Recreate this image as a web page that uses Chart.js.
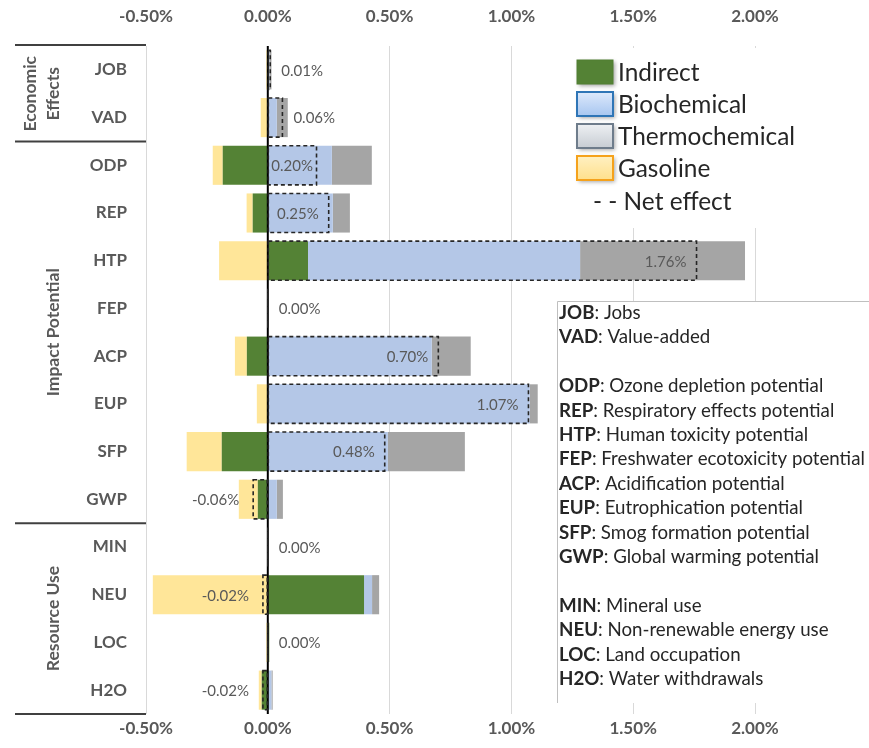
<!DOCTYPE html>
<html lang="en">
<head>
<meta charset="UTF-8">
<title>Net effect by impact category</title>
<script src="https://cdn.jsdelivr.net/npm/chart.js"></script>
<style>
  html, body { margin: 0; padding: 0; background: #fff; }
  #wrap { width: 869px; height: 748px; position: relative; }
</style>
</head>
<body>
<div id="wrap"><canvas id="chart"></canvas></div>
<script>
// all values in percent
const categories     = ['JOB', 'VAD', 'ODP', 'REP', 'HTP', 'FEP', 'ACP', 'EUP', 'SFP', 'GWP', 'MIN', 'NEU', 'LOC', 'H2O'];
const indirect       = [0.003, 0, -0.185, -0.062, 0.165, 0, -0.086, 0, -0.189, -0.041, 0, 0.395, 0.006, -0.025];
const biochemical    = [0.004, 0.037, 0.263, 0.267, 1.117, 0, 0.673, 1.075, 0.493, 0.037, 0, 0.033, 0, 0.015];
const thermochemical = [0.008, 0.045, 0.164, 0.070, 0.677, 0, 0.160, 0.033, 0.316, 0.025, 0, 0.029, 0, 0.005];
const gasoline       = [-0.006, -0.029, -0.041, -0.025, -0.200, 0, -0.049, -0.045, -0.144, -0.078, 0, -0.472, -0.006, -0.012];
const netEffect      = [0.01, 0.06, 0.20, 0.25, 1.76, 0.00, 0.70, 1.07, 0.48, -0.06, 0.00, -0.02, 0.00, -0.02];
const xTicks = [-0.5, 0, 0.5, 1.0, 1.5, 2.0];

const groups = [
  { label: ['Economic', 'Effects'], from: 0, to: 1 },
  { label: ['Impact Potential'], from: 2, to: 9 },
  { label: ['Resource Use'], from: 10, to: 13 }
];
const definitions = [
  ['JOB', 'Jobs'], ['VAD', 'Value-added'], null,
  ['ODP', 'Ozone depletion potential'], ['REP', 'Respiratory effects potential'],
  ['HTP', 'Human toxicity potential'], ['FEP', 'Freshwater ecotoxicity potential'],
  ['ACP', 'Acidification potential'], ['EUP', 'Eutrophication potential'],
  ['SFP', 'Smog formation potential'], ['GWP', 'Global warming potential'], null,
  ['MIN', 'Mineral use'], ['NEU', 'Non-renewable energy use'],
  ['LOC', 'Land occupation'], ['H2O', 'Water withdrawals']
];

const FONT = "Lato, 'Open Sans', sans-serif";
const colors = { indirect: '#548235', bio: '#b4c7e7', thermo: '#a5a5a5', gas: '#ffe699' };
const fmt = v => v.toFixed(2) + '%';

// dashed net boxes, labels, row table, legend and definitions box
const extras = {
  id: 'extras',
  afterDatasetsDraw(chart) {
    const ctx = chart.ctx;
    const area = chart.chartArea;
    const ys = chart.scales.y;
    const zero = chart.scales.x.getPixelForValue(0);

    ctx.save();
    // zero line
    ctx.strokeStyle = '#000';
    ctx.lineWidth = 2;
    ctx.beginPath();
    ctx.moveTo(zero, area.top);
    ctx.lineTo(zero, area.bottom);
    ctx.stroke();

    // net effect boxes + labels
    const meta = chart.getDatasetMeta(4);
    ctx.font = '15px ' + FONT;
    ctx.textBaseline = 'middle';
    meta.data.forEach((bar, i) => {
      const p = bar.getProps(['x', 'y', 'base', 'height'], true);
      const left = Math.min(p.x, p.base), w = Math.abs(p.x - p.base);
      ctx.setLineDash([4, 3]);
      ctx.strokeStyle = '#262626';
      ctx.lineWidth = 1.6;
      ctx.strokeRect(left, p.y - p.height / 2, w, p.height);
      ctx.setLineDash([]);

      const txt = fmt(netEffect[i]);
      const tw = ctx.measureText(txt).width;
      ctx.fillStyle = '#595959';
      ctx.textAlign = 'left';
      let tx;
      if (netEffect[i] < 0) {
        tx = p.x - 14 - tw;
      } else if (w >= tw) {
        tx = Math.max(p.x - 10 - tw, p.base + 3);
      } else {
        tx = p.x + 11;
      }
      ctx.fillText(txt, tx, p.y + 1);
    });

    // table lines on the left
    const bound = i => {
      if (i < 0) return area.top;
      if (i >= categories.length - 1) return area.bottom;
      return (ys.getPixelForValue(i) + ys.getPixelForValue(i + 1)) / 2;
    };
    ctx.strokeStyle = '#404040';
    ctx.lineWidth = 2;
    const lineYs = [area.top - 1].concat(groups.map(g => bound(g.to)));
    lineYs.forEach(y => {
      ctx.beginPath();
      ctx.moveTo(15, y);
      ctx.lineTo(area.left, y);
      ctx.stroke();
    });

    // group labels (rotated)
    ctx.fillStyle = '#595959';
    ctx.font = 'bold 17.5px ' + FONT;
    ctx.textAlign = 'center';
    groups.forEach(g => {
      const cy = (bound(g.from - 1) + bound(g.to)) / 2;
      const n = g.label.length;
      g.label.forEach((line, k) => {
        ctx.save();
        ctx.translate(53 - (n - 1 - k) * 23, cy);
        ctx.rotate(-Math.PI / 2);
        ctx.fillText(line, 0, 0);
        ctx.restore();
      });
    });

    // legend
    ctx.fillStyle = '#fff';
    ctx.fillRect(566, 48, 240, 180);
    ctx.font = '22px ' + FONT;
    const legSize = 22 * 177 / ctx.measureText('Thermochemical').width;
    const items = [
      { label: 'Indirect', fill: ['#548235', '#548235'], border: '#507e32' },
      { label: 'Biochemical', fill: ['#dde9fb', '#a7c6f0'], border: '#2e75b6' },
      { label: 'Thermochemical', fill: ['#eef0f3', '#c7ccd3'], border: '#6e7c8b' },
      { label: 'Gasoline', fill: ['#fff0c2', '#ffe08c'], border: '#f5a21c' }
    ];
    items.forEach((it, k) => {
      const cy = 72 + k * 32;
      const bx = 577, by = cy - 12, bw = 36, bh = 24;
      const grad = ctx.createLinearGradient(0, by, 0, by + bh);
      grad.addColorStop(0, it.fill[0]);
      grad.addColorStop(1, it.fill[1]);
      ctx.save();
      ctx.shadowColor = 'rgba(0,0,0,0.35)';
      ctx.shadowBlur = 4;
      ctx.shadowOffsetX = 2;
      ctx.shadowOffsetY = 2;
      ctx.fillStyle = grad;
      ctx.fillRect(bx, by, bw, bh);
      ctx.restore();
      ctx.strokeStyle = it.border;
      ctx.lineWidth = k === 0 ? 1 : 2;
      ctx.strokeRect(bx, by, bw, bh);
      ctx.fillStyle = '#262626';
      ctx.font = legSize.toFixed(1) + 'px ' + FONT;
      ctx.textAlign = 'left';
      ctx.fillText(it.label, 618, cy + 1);
    });
    ctx.fillStyle = '#262626';
    ctx.fillText('- - Net effect', 593, 202);

    // definitions box
    ctx.fillStyle = '#fff';
    ctx.fillRect(557, 301, 869 - 557, 402);
    ctx.strokeStyle = '#bfbfbf';
    ctx.lineWidth = 1;
    ctx.beginPath();
    ctx.moveTo(557.5, 703);
    ctx.lineTo(557.5, 301.5);
    ctx.lineTo(869, 301.5);
    ctx.stroke();
    const lineWidthAt16 = d => {
      ctx.font = 'bold 16px ' + FONT;
      const a = ctx.measureText(d[0]).width;
      ctx.font = '16px ' + FONT;
      return a + ctx.measureText(': ' + d[1]).width;
    };
    const widest = Math.max(...definitions.filter(d => d).map(lineWidthAt16));
    const defSize = (16 * 306 / widest).toFixed(1);
    definitions.forEach((d, k) => {
      if (!d) return;
      const y = 313 + k * 24.4;
      ctx.textAlign = 'left';
      ctx.fillStyle = '#262626';
      ctx.font = 'bold ' + defSize + 'px ' + FONT;
      ctx.fillText(d[0], 559, y);
      const kw = ctx.measureText(d[0]).width;
      ctx.font = defSize + 'px ' + FONT;
      ctx.fillText(': ' + d[1], 559 + kw, y);
    });
    ctx.restore();
  }
};

const tickFont = { family: FONT, size: 17, weight: 'bold' };

new Chart(document.getElementById('chart'), {
  type: 'bar',
  data: {
    labels: categories,
    datasets: [
      { label: 'Indirect', data: indirect, backgroundColor: colors.indirect },
      { label: 'Biochemical', data: biochemical, backgroundColor: colors.bio },
      { label: 'Thermochemical', data: thermochemical, backgroundColor: colors.thermo },
      { label: 'Gasoline', data: gasoline, backgroundColor: colors.gas },
      { label: 'Net effect', data: netEffect, backgroundColor: 'rgba(0,0,0,0)', stack: 'net', grouped: false }
    ]
  },
  options: {
    indexAxis: 'y',
    responsive: true,
    maintainAspectRatio: false,
    animation: false,
    layout: { padding: { top: 5, right: 114, bottom: 0, left: 0 } },
    datasets: { bar: { categoryPercentage: 1, barPercentage: 0.82, borderWidth: 0 } },
    plugins: { legend: { display: false }, tooltip: { enabled: false } },
    scales: {
      x: {
        type: 'linear', position: 'bottom', stacked: true,
        min: -0.5, max: 2.0,
        afterBuildTicks: s => { s.ticks = xTicks.map(v => ({ value: v })); },
        afterFit: s => { s.height = 34; },
        grid: { color: '#d9d9d9', drawTicks: false },
        border: { display: false },
        ticks: { font: tickFont, color: '#595959', padding: 4, callback: v => fmt(v) }
      },
      x2: {
        type: 'linear', position: 'top',
        min: -0.5, max: 2.0,
        afterBuildTicks: s => { s.ticks = xTicks.map(v => ({ value: v })); },
        afterFit: s => { s.height = 41; },
        grid: { display: false, drawTicks: false },
        border: { display: false },
        ticks: { font: tickFont, color: '#595959', padding: 19, callback: v => fmt(v) }
      },
      y: {
        stacked: true,
        afterFit: s => { s.width = 146; },
        grid: { display: false, drawTicks: false },
        border: { display: false },
        ticks: { font: { family: FONT, size: 17, weight: 'bold' }, color: '#595959', padding: 19 }
      }
    }
  },
  plugins: [extras]
});
</script>
</body>
</html>
